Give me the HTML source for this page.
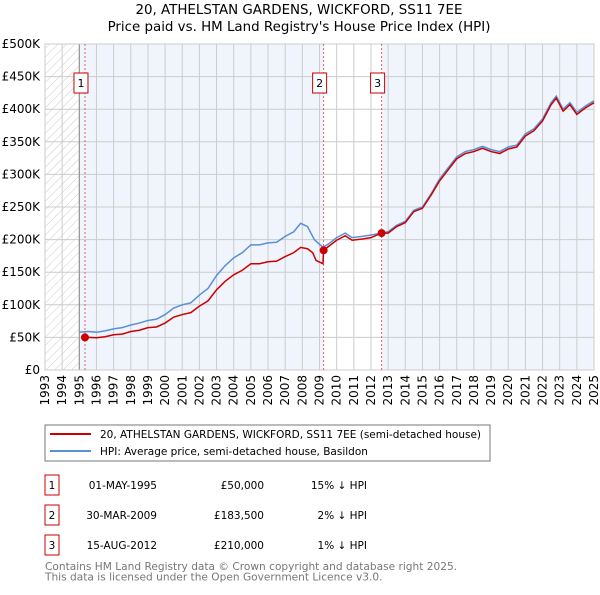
<!DOCTYPE html>
<html><head><meta charset="utf-8"><style>
body{margin:0;background:#fff;width:600px;height:590px;overflow:hidden}
svg text{font-family:"DejaVu Sans","Liberation Sans",sans-serif}
</style></head><body>
<svg id="c" width="600" height="590" xmlns="http://www.w3.org/2000/svg">
<defs><pattern id="hatch" width="6" height="6" patternUnits="userSpaceOnUse" patternTransform="rotate(45)"><line x1="0" y1="0" x2="0" y2="6" stroke="#ccc" stroke-width="1"/></pattern></defs>
<text x="299" y="14" font-size="13.4" text-anchor="middle">20, ATHELSTAN GARDENS, WICKFORD, SS11 7EE</text>
<text x="299" y="31" font-size="13.4" text-anchor="middle">Price paid vs. HM Land Registry's House Price Index (HPI)</text>
<g id="plot"></g>
<g>
<rect x="45" y="425" width="445" height="36" fill="#fff" stroke="#777"/>
<line x1="50" y1="434" x2="91" y2="434" stroke="#cc0000" stroke-width="2"/>
<text x="100" y="438" font-size="10.5">20, ATHELSTAN GARDENS, WICKFORD, SS11 7EE (semi-detached house)</text>
<line x1="50" y1="451" x2="91" y2="451" stroke="#5b8fd4" stroke-width="2"/>
<text x="100" y="455" font-size="10.5">HPI: Average price, semi-detached house, Basildon</text>
</g>
<g font-size="10.5">
<rect x="45" y="475" width="14" height="20" fill="#fff" stroke="#cc0000"/><text x="52" y="489" text-anchor="middle">1</text>
<text x="157" y="489" text-anchor="end">01-MAY-1995</text><text x="264" y="489" text-anchor="end">£50,000</text><text x="367" y="489" text-anchor="end">15% ↓ HPI</text>
<rect x="45" y="505" width="14" height="20" fill="#fff" stroke="#cc0000"/><text x="52" y="519" text-anchor="middle">2</text>
<text x="157" y="519" text-anchor="end">30-MAR-2009</text><text x="264" y="519" text-anchor="end">£183,500</text><text x="367" y="519" text-anchor="end">2% ↓ HPI</text>
<rect x="45" y="535" width="14" height="20" fill="#fff" stroke="#cc0000"/><text x="52" y="549" text-anchor="middle">3</text>
<text x="157" y="549" text-anchor="end">15-AUG-2012</text><text x="264" y="549" text-anchor="end">£210,000</text><text x="367" y="549" text-anchor="end">1% ↓ HPI</text>
</g>
<text x="45" y="570" font-size="10.6" fill="#777">Contains HM Land Registry data © Crown copyright and database right 2025.</text>
<text x="45" y="580.5" font-size="10.6" fill="#777">This data is licensed under the Open Government Licence v3.0.</text>
</svg>
<script>
const yTicks=[0,50,100,150,200,250,300,350,400,450,500];
const yLabels=["£0","£50K","£100K","£150K","£200K","£250K","£300K","£350K","£400K","£450K","£500K"];
const years=[1993,1994,1995,1996,1997,1998,1999,2000,2001,2002,2003,2004,2005,2006,2007,2008,2009,2010,2011,2012,2013,2014,2015,2016,2017,2018,2019,2020,2021,2022,2023,2024,2025];
const hpiT=[1995.0,1995.5,1996,1996.5,1997,1997.5,1998,1998.5,1999,1999.5,2000,2000.5,2001,2001.5,2002,2002.5,2003,2003.5,2004,2004.5,2005,2005.5,2006,2006.5,2007,2007.5,2007.9,2008.3,2008.7,2009.2,2009.5,2010,2010.5,2010.9,2011.5,2012,2012.6,2013,2013.5,2014,2014.5,2015,2015.5,2016,2016.5,2017,2017.5,2018,2018.5,2019,2019.5,2020,2020.5,2021,2021.5,2022,2022.5,2022.8,2023.2,2023.6,2024,2024.5,2025];
const hpiV=[58,59,58,60,63,65,69,72,76,78,85,95,100,103,115,125,145,160,172,180,192,192,195,196,205,212,225,220,200,188,193,203,210,203,205,207,210,212,222,228,245,250,270,293,310,327,335,338,343,338,335,342,345,362,370,385,410,420,400,410,395,405,413];
const propT=[1995.33,1995.5,1996,1996.5,1997,1997.5,1998,1998.5,1999,1999.5,2000,2000.5,2001,2001.5,2002,2002.5,2003,2003.5,2004,2004.5,2005,2005.5,2006,2006.5,2007,2007.5,2007.9,2008.3,2008.6,2008.8,2009.2,2009.24,2009.5,2010,2010.5,2010.9,2011.5,2012,2012.6,2013,2013.5,2014,2014.5,2015,2015.5,2016,2016.5,2017,2017.5,2018,2018.5,2019,2019.5,2020,2020.5,2021,2021.5,2022,2022.5,2022.8,2023.2,2023.6,2024,2024.5,2025];
const propV=[50,50,49.5,51,54,55,59,61,65,66,72,81,85,88,98,106,123,136,146,153,163,163,166,167,174,180,188,186,180,168,163,183.5,189,199,206,199,201,203,210,210,220,226,243,248,268,290,307,324,332,335,340,335,332,339,342,359,367,382,407,417,397,407,392,402,410];
const saleT=[1995.33,2009.24,2012.62];
const saleV=[50,183.5,210];
const saleLabels=["1","2","3"];

const X0=45,X1=594,Y0=370,Y1=44;
const xs=t=>X0+(t-1993)/(2025-1993)*(X1-X0);
const ys=v=>Y0-v/500*(Y0-Y1);
const NS="http://www.w3.org/2000/svg";
const g=document.getElementById('plot');
function mk(tag,at){const e=document.createElementNS(NS,tag);for(const k in at)e.setAttribute(k,at[k]);g.appendChild(e);return e;}
let e;
e=mk('rect',{x:xs(1995),y:Y1,width:X1-xs(1995),height:Y0-Y1,fill:'#f0f4fc'});


e=mk('rect',{x:xs(saleT[1]),y:Y1,width:xs(saleT[2])-xs(saleT[1]),height:Y0-Y1,fill:'#fff'});


e=mk('rect',{x:X0,y:Y1,width:xs(1995)-X0,height:Y0-Y1,fill:'url(#hatch)'});


yTicks.forEach((v,i)=>{
  e=mk('line',{x1:X0,x2:X1,y1:ys(v),y2:ys(v),stroke:'#ccc','stroke-width':1});
  
  
  e=mk('text',{x:X0-5,y:ys(v)+4,'font-size':12,'text-anchor':'end'});e.textContent=yLabels[i];
  
  
});
years.forEach(yr=>{
  e=mk('line',{x1:xs(yr),x2:xs(yr),y1:Y1,y2:Y0,stroke:'#ccc','stroke-width':1});
  
  
  e=mk('text',{x:0,y:0,'font-size':12,'text-anchor':'end',transform:`translate(${xs(yr)+4},${Y0+5}) rotate(-90)`});e.textContent=yr;
  
  
});
e=mk('line',{x1:xs(1995),x2:xs(1995),y1:Y1,y2:Y0,stroke:'#888','stroke-width':1});


e=mk('rect',{x:X0,y:Y1,width:X1-X0,height:Y0-Y1,fill:'none',stroke:'#ccc'});


saleT.forEach((t,i)=>{
  e=mk('line',{x1:xs(t),x2:xs(t),y1:Y1,y2:Y0,stroke:'#e06060','stroke-width':1,'stroke-dasharray':'2,2'});
  
  
});
e=mk('polyline',{points:hpiT.map((t,i)=>xs(t)+','+ys(hpiV[i])).join(' '),fill:'none',stroke:'#5b8fd4','stroke-width':1.5});


e=mk('polyline',{points:propT.map((t,i)=>xs(t)+','+ys(propV[i])).join(' '),fill:'none',stroke:'#cc0000','stroke-width':1.5});


saleT.forEach((t,i)=>{
  e=mk('circle',{cx:xs(t),cy:ys(saleV[i]),r:4,fill:'#cc0000'});
  
  
  e=mk('rect',{x:xs(t)-11,y:73,width:14,height:20,fill:'#fff',stroke:'#cc0000'});
  
  
  e=mk('text',{x:xs(t)-4,y:87,'font-size':11,'text-anchor':'middle'});e.textContent=saleLabels[i];
  
  
});
</script>
</body></html>
